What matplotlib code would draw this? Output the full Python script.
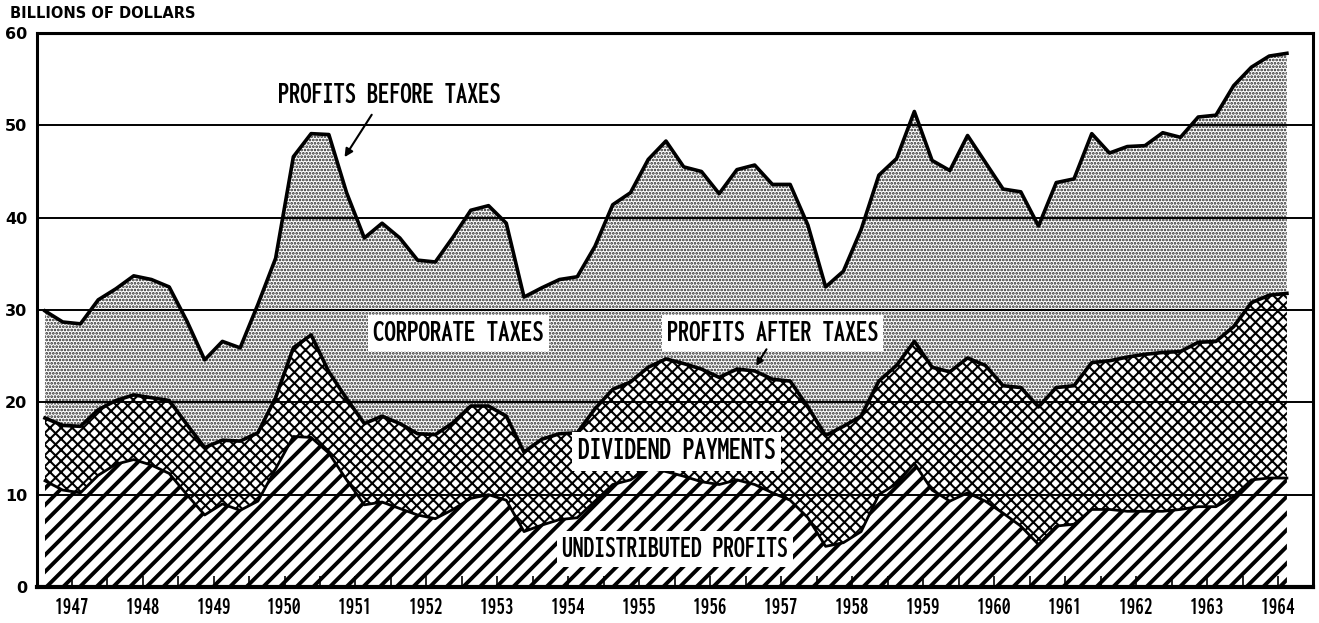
import numpy as np
import matplotlib.pyplot as plt
from matplotlib import font_manager
from matplotlib.font_manager import FontProperties

# quarterly values, 1947 Q1 .. 1964 Q3, billions of dollars (annual rates)
before_tax = [29.9, 28.7, 28.5, 31.1, 32.3, 33.7, 33.3, 32.5, 28.8, 24.6, 26.6, 25.9,
              30.6, 35.6, 46.6, 49.1, 49.0, 42.7, 37.8, 39.4, 37.8, 35.4, 35.2, 37.9,
              40.8, 41.3, 39.4, 31.4, 32.4, 33.3, 33.6, 36.9, 41.4, 42.7, 46.3, 48.3,
              45.5, 45.0, 42.6, 45.2, 45.7, 43.6, 43.6, 39.2, 32.5, 34.2, 38.7, 44.6,
              46.4, 51.5, 46.2, 45.1, 48.9, 46.0, 43.1, 42.8, 39.1, 43.8, 44.2, 49.1,
              47.0, 47.7, 47.8, 49.2, 48.7, 50.9, 51.1, 54.3, 56.3, 57.5, 57.8]
after_tax = [18.3, 17.5, 17.4, 19.2, 20.2, 20.8, 20.5, 20.2, 17.6, 15.1, 15.9, 15.8,
             16.7, 20.5, 25.9, 27.3, 23.3, 20.4, 17.7, 18.5, 17.7, 16.6, 16.5, 17.8,
             19.6, 19.6, 18.5, 14.6, 16.0, 16.6, 16.7, 19.3, 21.4, 22.2, 23.8, 24.7,
             24.2, 23.6, 22.7, 23.6, 23.4, 22.5, 22.3, 19.5, 16.4, 17.4, 18.5, 22.3,
             24.0, 26.6, 23.8, 23.3, 24.8, 24.0, 21.8, 21.6, 19.5, 21.6, 21.8, 24.3,
             24.5, 24.9, 25.2, 25.4, 25.5, 26.5, 26.6, 28.2, 30.8, 31.6, 31.8]
undistributed = [11.5, 10.5, 10.2, 12.1, 13.3, 13.8, 13.2, 12.3, 10.0, 7.8, 9.0, 8.3,
                 9.3, 12.8, 16.3, 16.2, 14.5, 11.6, 8.9, 9.2, 8.5, 7.8, 7.4, 8.4,
                 9.6, 10.0, 9.4, 6.0, 6.7, 7.3, 7.5, 9.3, 11.1, 11.6, 12.9, 12.5,
                 12.0, 11.4, 11.1, 11.6, 11.1, 10.2, 9.4, 7.5, 4.4, 4.8, 6.0, 10.0,
                 11.2, 13.4, 10.5, 9.3, 10.2, 9.3, 8.0, 6.6, 4.6, 6.6, 6.8, 8.4,
                 8.4, 8.2, 8.2, 8.2, 8.4, 8.7, 8.7, 9.8, 11.6, 11.8, 11.8]
years = list(range(1947, 1965))
y_ticks = [0, 10, 20, 30, 40, 50, 60]

x = np.arange(len(before_tax))

# look for a condensed bold face for the poster-style labels
cond_path = None
files = [f.fname for f in font_manager.fontManager.ttflist]
for key in ['ExtraCondensedBold', 'ExtraCondensed-Bold', 'SemiCondensedBold',
            'CondensedBold', 'Condensed-Bold', 'Narrow-Bold', 'NarrowBold']:
    hits = sorted(p for p in files if key.lower() in p.lower().replace(' ', ''))
    if hits:
        cond_path = hits[0]
        break


def cond_font(size):
    if cond_path:
        return FontProperties(fname=cond_path, size=size)
    return FontProperties(family='DejaVu Sans', weight='bold', size=size)


fig = plt.figure(figsize=(13.19, 6.23), dpi=100)
ax = fig.add_axes([37 / 1319, 1 - 587 / 623, (1313 - 37) / 1319, (587 - 33) / 623])
renderer = fig.canvas.get_renderer()


def fit_text(t, width_px):
    # scale the font so the label is about as wide as in the original
    w = t.get_window_extent(renderer).width
    fp = t.get_fontproperties()
    t.set_fontsize(fp.get_size_in_points() * width_px / w)


def hatched(lo, hi, pattern, lw, color):
    with plt.rc_context({'hatch.linewidth': lw}):
        coll = ax.fill_between(x, lo, hi, facecolor='white', edgecolor=color,
                               hatch=pattern, linewidth=0, zorder=1)
    if hasattr(coll, 'set_hatch_linewidth'):
        coll.set_hatch_linewidth(lw)
    return coll


hatched(after_tax, before_tax, '.....', 1.3, '#222222')
hatched(undistributed, after_tax, 'xxx', 1.5, 'black')
hatched(0, undistributed, '//', 2.8, 'black')

for v in y_ticks[1:]:
    ax.axhline(v, color='black', lw=1.4 if v < 60 else 2.2, zorder=2)

ax.plot(x, before_tax, color='black', lw=2.6, zorder=3)
ax.plot(x, after_tax, color='black', lw=2.6, zorder=3)
ax.plot(x, undistributed, color='black', lw=2.0, zorder=3)

ax.set_xlim(-0.45, 71.47)
ax.set_ylim(0, 60)
ax.set_yticks(y_ticks)
ax.set_yticklabels([str(v) for v in y_ticks], fontsize=11.5, fontweight='bold')
ax.set_xticks([4 * i + 1.5 for i in range(len(years))])
ax.set_xticklabels([str(y) for y in years])
ax.set_xticks([4 * i + 3.5 for i in range(len(years) - 1)], minor=True)
ax.tick_params(axis='x', which='both', direction='in', length=8, width=1.2, pad=7)
ax.tick_params(axis='y', length=0, pad=7)
for side in ['left', 'bottom', 'right', 'top']:
    ax.spines[side].set_linewidth(2.2)
ax.spines['bottom'].set_linewidth(3)

fig.text(10 / 1319, 1 - 14 / 623, 'BILLIONS OF DOLLARS', fontsize=10.5,
         fontweight='bold', va='center', ha='left')

box = dict(facecolor='white', edgecolor='none', pad=2.5)
labels = [
    ('PROFITS BEFORE TAXES', 19.4, 53.3, 222, None),
    ('CORPORATE TAXES', 23.3, 27.5, 170, box),
    ('PROFITS AFTER TAXES', 41.0, 27.5, 210, box),
    ('DIVIDEND PAYMENTS', 35.6, 14.7, 198, box),
    ('UNDISTRIBUTED PROFITS', 35.5, 4.1, 225, box),
]
for txt, lx, ly, wpx, bb in labels:
    t = ax.text(lx, ly, txt, fontproperties=cond_font(16), ha='center', va='center',
                bbox=bb, zorder=5)
    fit_text(t, wpx)

ax.annotate('', xy=(16.8, 46.3), xytext=(18.5, 51.4), zorder=5,
            arrowprops=dict(arrowstyle='-|>', color='black', lw=1.5, mutation_scale=12))
ax.annotate('', xy=(40.0, 23.7), xytext=(40.75, 26.0), zorder=5,
            arrowprops=dict(arrowstyle='-|>', color='black', lw=1.5, mutation_scale=10))

for t in ax.get_xticklabels():
    t.set_fontproperties(cond_font(13))
    fit_text(t, 34)

fig.savefig('out.png', dpi=100)
